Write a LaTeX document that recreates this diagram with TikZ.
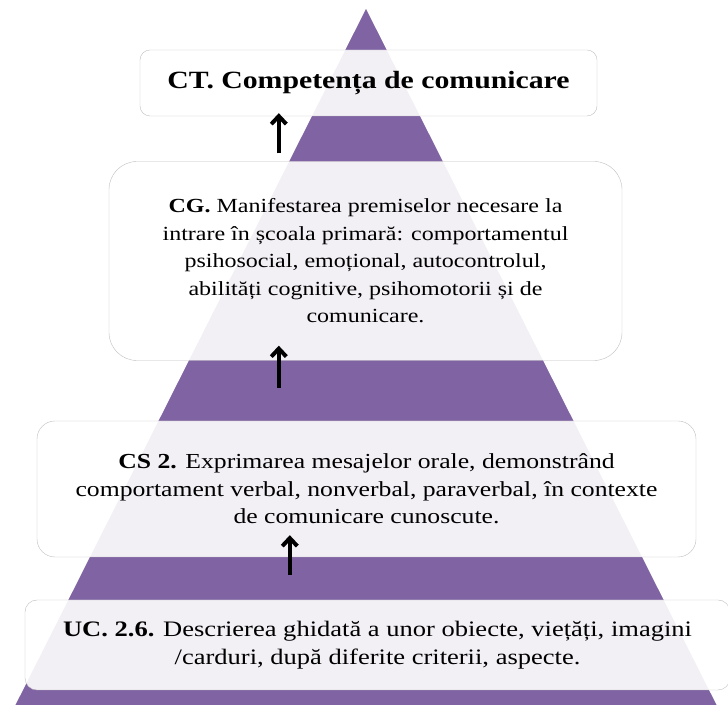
\documentclass[tikz,border=0pt]{standalone}
\usepackage{fontspec}
\setmainfont{Liberation Serif}[FakeStretch=1.2]
\usetikzlibrary{arrows.meta,calc}
\definecolor{pyr}{RGB}{127,99,162}
\def\bodyfont#1{\fontsize{#1}{27.5}\selectfont}
\def\upar{\draw[up]}

\begin{document}
\begin{tikzpicture}[x=1pt,y=1pt,
    lvl/.style={draw=black!25, fill=white, fill opacity=0.9, text opacity=1,
      align=center, inner sep=0pt},
    up/.style={line width=4pt, -{Straight Barb[length=8pt,width=15pt]}}]
\useasboundingbox (0,0) rectangle (728,706);
% pyramid
\fill[pyr, draw=white, line width=1.5pt] (366,699) -- (14,0) -- (718,0) -- cycle;
% levels
\node[lvl, minimum width=457pt, minimum height=66pt, rounded corners=10pt,
      font=\fontsize{24.8}{29}\selectfont\bfseries] (ct) at (368.5,623)
      {CT. Competența de comunicare};
\node[lvl, minimum width=513pt, minimum height=199pt, rounded corners=28pt,
      font=\bodyfont{20}] (cg) at (365.5,445)
      {\textbf{CG.} Manifestarea premiselor necesare la\\
       intrare în școala primară: comportamentul\\
       psihosocial, emoțional, autocontrolul,\\
       abilități cognitive, psihomotorii și de\\
       comunicare.};
\node[lvl, minimum width=659pt, minimum height=136pt, rounded corners=18pt,
      font=\bodyfont{21.4}] (cs) at (366.5,217)
      {\textbf{CS 2.} Exprimarea mesajelor orale, demonstrând\\
       comportament verbal, nonverbal, paraverbal, în contexte\\
       de comunicare cunoscute.};
\node[lvl, minimum width=705pt, minimum height=90pt, rounded corners=12pt,
      font=\bodyfont{22.1}] (uc) at (377.5,61)
      {\textbf{UC. 2.6.} Descrierea ghidată a unor obiecte, viețăți, imagini\\
       /carduri, după diferite criterii, aspecte.};
% arrows
\upar ($(cg.north west)+(170,8)$) -- ($(ct.south west)+(139,3)$);
\upar ($(cs.north west)+(242,33)$) -- ($(cg.south west)+(170,15)$);
\upar ($(uc.north west)+(265,25)$) -- ($(cs.south west)+(253,22)$);
\end{tikzpicture}
\end{document}
